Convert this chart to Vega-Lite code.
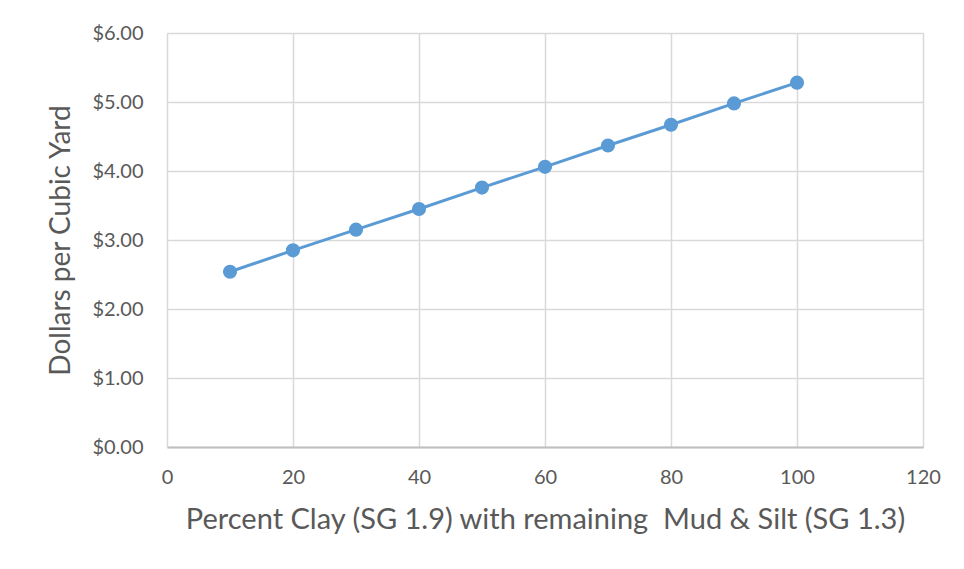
{
  "$schema": "https://vega.github.io/schema/vega-lite/v6.json",
  "autosize": "none",
  "width": 756,
  "height": 414,
  "padding": {"left": 167, "top": 33, "right": 41, "bottom": 122},
  "background": "white",
  "config": {
    "view": {"stroke": null},
    "font": "Lato",
    "axis": {
      "labelFont": "Lato",
      "titleFont": "Lato",
      "labelColor": "#595959",
      "titleColor": "#595959",
      "labelFontSize": 20,
      "titleFontSize": 28,
      "titleFontWeight": "normal",
      "gridColor": "#D9D9D9",
      "gridWidth": 1.5,
      "ticks": false,
      "domain": false
    }
  },
  "data": {
    "values": [
      {"clay": 10, "cost": 2.54},
      {"clay": 20, "cost": 2.85},
      {"clay": 30, "cost": 3.15},
      {"clay": 40, "cost": 3.45},
      {"clay": 50, "cost": 3.76},
      {"clay": 60, "cost": 4.06},
      {"clay": 70, "cost": 4.37},
      {"clay": 80, "cost": 4.67},
      {"clay": 90, "cost": 4.98},
      {"clay": 100, "cost": 5.28}
    ]
  },
  "encoding": {
    "x": {
      "field": "clay",
      "type": "quantitative",
      "scale": {"domain": [0, 120], "nice": false, "zero": false},
      "axis": {
        "values": [0, 20, 40, 60, 80, 100, 120],
        "title": "Percent Clay (SG 1.9) with remaining\u00a0 Mud & Silt (SG 1.3)",
        "labelPadding": 20,
        "labelFlush": false,
        "titlePadding": 18,
        "titleFontSize": 29,
        "domain": true,
        "domainColor": "#BFBFBF",
        "domainWidth": 2
      }
    },
    "y": {
      "field": "cost",
      "type": "quantitative",
      "scale": {"domain": [0, 6], "nice": false},
      "axis": {
        "values": [0, 1, 2, 3, 4, 5, 6],
        "format": "$.2f",
        "title": "Dollars per Cubic Yard",
        "labelPadding": 24,
        "labelFlush": false,
        "titlePadding": 16
      }
    }
  },
  "layer": [
    {"mark": {"type": "line", "color": "#5B9BD5", "strokeWidth": 3}},
    {"mark": {"type": "point", "filled": true, "color": "#5B9BD5", "opacity": 1, "size": 200}}
  ]
}
